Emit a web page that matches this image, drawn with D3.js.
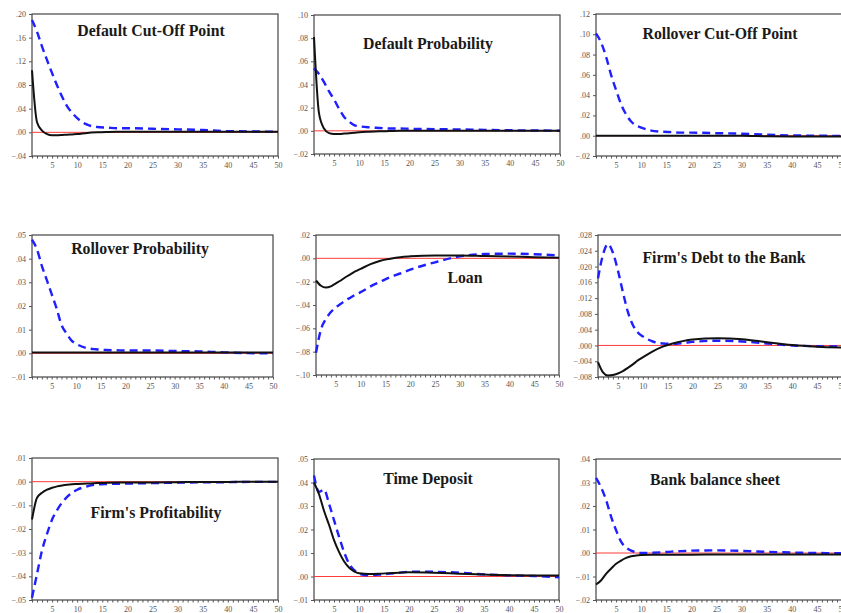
<!DOCTYPE html>
<html>
<head>
<meta charset="utf-8">
<script src="https://cdn.jsdelivr.net/npm/d3@7.9.0/dist/d3.min.js"></script>
<style>
  body { margin: 0; background: #fff; }
  svg { display: block; }
</style>
</head>
<body>
<svg id="chart" width="841" height="613"></svg>
<script>
const periods = [1, 2, 3, 4, 5, 6, 7, 8, 9, 10, 12, 14, 16, 18, 20, 25, 30, 35, 40, 45, 50];

const titles = ["Default Cut-Off Point", "Default Probability", "Rollover Cut-Off Point",
  "Rollover Probability", "Loan", "Firm's Debt to the Bank",
  "Firm's Profitability", "Time Deposit", "Bank balance sheet"];

const yTicks = [
  [-0.04, 0, 0.04, 0.08, 0.12, 0.16, 0.20],
  [-0.02, 0, 0.02, 0.04, 0.06, 0.08, 0.10],
  [-0.02, 0, 0.02, 0.04, 0.06, 0.08, 0.10, 0.12],
  [-0.01, 0, 0.01, 0.02, 0.03, 0.04, 0.05],
  [-0.10, -0.08, -0.06, -0.04, -0.02, 0, 0.02],
  [-0.008, -0.004, 0, 0.004, 0.008, 0.012, 0.016, 0.020, 0.024, 0.028],
  [-0.05, -0.04, -0.03, -0.02, -0.01, 0, 0.01],
  [-0.01, 0, 0.01, 0.02, 0.03, 0.04, 0.05],
  [-0.02, -0.01, 0, 0.01, 0.02, 0.03, 0.04]
];

// solid black response
const solidSeries = [
  [.105, .017, .003, -.003, -.005, -.005, -.0045, -.004, -.0035, -.003, -.001, 0, .0005, .0008, .001, .001, .001, .001, .001, .001, .001],
  [.081, .015, .002, -.002, -.0027, -.0027, -.0024, -.002, -.0017, -.0013, -.0008, -.0004, -.0002, 0, 0, 0, 0, 0, 0, 0, 0],
  [0, 0, 0, 0, 0, 0, 0, 0, 0, 0, 0, 0, 0, 0, 0, 0, 0, -.0005, -.0007, -.0008, -.0008],
  [.0003, .0003, .0003, .0003, .0003, .0003, .0003, .0003, .0003, .0003, .0003, .0003, .0003, .0003, .0003, .0003, .0003, .0003, .0003, .0003, .0003],
  [-.019, -.0235, -.025, -.024, -.0215, -.019, -.016, -.0135, -.011, -.009, -.005, -.002, -.0003, .001, .0017, .0025, .0025, .002, .0015, .001, .0005],
  [-.0042, -.0068, -.0076, -.0075, -.0071, -.0065, -.0057, -.0048, -.0038, -.003, -.0015, -.0003, .0005, .0011, .0015, .0018, .0016, .0008, .0001, -.0003, -.0005],
  [-.016, -.0068, -.0047, -.0034, -.0026, -.002, -.0016, -.0013, -.0011, -.001, -.0008, -.0006, -.0005, -.0004, -.0003, -.0003, -.0002, -.0001, -.0001, 0, 0],
  [.040, .035, .028, .022, .0155, .0105, .0065, .0038, .0022, .0014, .0011, .0012, .0014, .0016, .0018, .0016, .0012, .0008, .0005, .0004, .0004],
  [-.0134, -.0117, -.0089, -.0067, -.0046, -.0032, -.0021, -.0014, -.0011, -.0009, -.0007, -.0007, -.0007, -.0007, -.0007, -.0006, -.0006, -.0006, -.0006, -.0006, -.0006]
];

// dashed blue response
const dashedSeries = [
  [.19, .17, .145, .122, .10, .079, .06, .044, .033, .024, .013, .009, .008, .007, .007, .006, .005, .004, .002, .0015, .001],
  [.054, .049, .042, .034, .027, .019, .012, .008, .005, .004, .003, .0025, .002, .002, .0018, .0015, .0012, .0008, .0005, .0003, .0001],
  [.101, .092, .078, .060, .045, .031, .021, .014, .010, .008, .005, .004, .0035, .003, .003, .0025, .002, .001, .0003, 0, -.0002],
  [.048, .044, .037, .031, .025, .019, .012, .0085, .0055, .004, .0023, .0017, .0014, .0013, .0012, .0012, .001, .0008, .0004, .0001, 0],
  [-.081, -.061, -.052, -.046, -.042, -.039, -.036, -.0335, -.031, -.029, -.024, -.020, -.016, -.013, -.0097, -.0034, .0017, .0037, .004, .0035, .0025],
  [.017, .023, .0257, .0235, .019, .0135, .0085, .0052, .0033, .0023, .001, .0005, .0004, .0006, .0009, .0012, .001, .0005, 0, -.0002, -.0003],
  [-.049, -.039, -.029, -.022, -.016, -.012, -.0088, -.0064, -.0047, -.0034, -.002, -.0012, -.001, -.0009, -.0008, -.0006, -.0004, -.0003, -.0002, -.0001, -.0001],
  [.043, .036, .037, .031, .024, .017, .0105, .0055, .0028, .0012, .0005, .0008, .0012, .0016, .002, .002, .0016, .0009, .0005, .0002, -.0003],
  [.032, .028, .0226, .0155, .0097, .0048, .0023, .001, .0003, 0, .0001, .0003, .0006, .0008, .001, .0011, .0009, .0005, .0002, 0, -.0001]
];

// panel boxes in page pixels, and title centres
const panels = [
  { x0: 32, x1: 278, y0: 14, y1: 156, tx: 151, ty: 30, dec: 2 },
  { x0: 314, x1: 560, y0: 15, y1: 154, tx: 428, ty: 43, dec: 2 },
  { x0: 596, x1: 842, y0: 14, y1: 156, tx: 720, ty: 33, dec: 2 },
  { x0: 32, x1: 273, y0: 235, y1: 377, tx: 140, ty: 248, dec: 2 },
  { x0: 316, x1: 559, y0: 235, y1: 375, tx: 465, ty: 277, dec: 2 },
  { x0: 598, x1: 842, y0: 235, y1: 377, tx: 724, ty: 257, dec: 3 },
  { x0: 32, x1: 278, y0: 458, y1: 600, tx: 156, ty: 512, dec: 2 },
  { x0: 314, x1: 559, y0: 459, y1: 600, tx: 428, ty: 478, dec: 2 },
  { x0: 596, x1: 842, y0: 459, y1: 600, tx: 715, ty: 479, dec: 2 }
];

const svg = d3.select("#chart");
const xTickVals = d3.range(1, 51);

function fmt(dec) {
    const f = d3.format("." + dec + "f");
    return v => f(v).replace("0.", ".");
}

panels.forEach((p, i) => {
    const x = d3.scaleLinear().domain([1, 50]).range([p.x0, p.x1]);
    const ticks = yTicks[i];
    const y = d3.scaleLinear().domain([d3.min(ticks), d3.max(ticks)]).range([p.y1, p.y0]);
    const g = svg.append("g");

    g.append("rect")
        .attr("x", p.x0).attr("y", p.y0)
        .attr("width", p.x1 - p.x0).attr("height", p.y1 - p.y0)
        .attr("fill", "#fff").attr("stroke", "#444").attr("stroke-width", 1.2);

    const yAxis = g.append("g")
        .attr("transform", "translate(" + p.x0 + ",0)")
        .call(d3.axisLeft(y).tickValues(ticks).tickSize(3).tickSizeOuter(0).tickFormat(fmt(p.dec)));
    yAxis.select(".domain").remove();
    yAxis.selectAll("line").attr("stroke", "#555");
    yAxis.selectAll("text")
        .attr("fill", "#555")
        .style("font-family", "'Liberation Serif', serif")
        .style("font-size", "8px");

    const xAxis = g.append("g")
        .attr("transform", "translate(0," + p.y1 + ")")
        .call(d3.axisBottom(x).tickValues(xTickVals).tickSize(2.5).tickSizeOuter(0)
            .tickFormat(d => d % 5 === 0 ? d : ""));
    xAxis.select(".domain").remove();
    xAxis.selectAll("line").attr("stroke", "#555");
    xAxis.selectAll("text")
        .attr("fill", "#555")
        .attr("dy", "0.85em")
        .style("font-family", "'Liberation Serif', serif")
        .style("font-size", "8px");

    g.append("line")
        .attr("x1", p.x0).attr("x2", p.x1)
        .attr("y1", y(0)).attr("y2", y(0))
        .attr("stroke", "#ff3b3b").attr("stroke-width", 1);

    const line = d3.line()
        .x((d, k) => x(periods[k]))
        .y(d => y(d))
        .curve(d3.curveMonotoneX);

    g.append("path")
        .datum(dashedSeries[i])
        .attr("d", line)
        .attr("fill", "none")
        .attr("stroke", "#1f1fff")
        .attr("stroke-width", 2.4)
        .attr("stroke-dasharray", "8,5");

    g.append("path")
        .datum(solidSeries[i])
        .attr("d", line)
        .attr("fill", "none")
        .attr("stroke", "#111")
        .attr("stroke-width", 2);

    g.append("text")
        .attr("x", p.tx).attr("y", p.ty)
        .attr("text-anchor", "middle")
        .attr("dominant-baseline", "central")
        .attr("fill", "#1a1a1a")
        .style("font-family", "'Liberation Serif', serif")
        .style("font-weight", "bold")
        .style("font-size", "15.8px")
        .text(titles[i]);
});
</script>
</body>
</html>
